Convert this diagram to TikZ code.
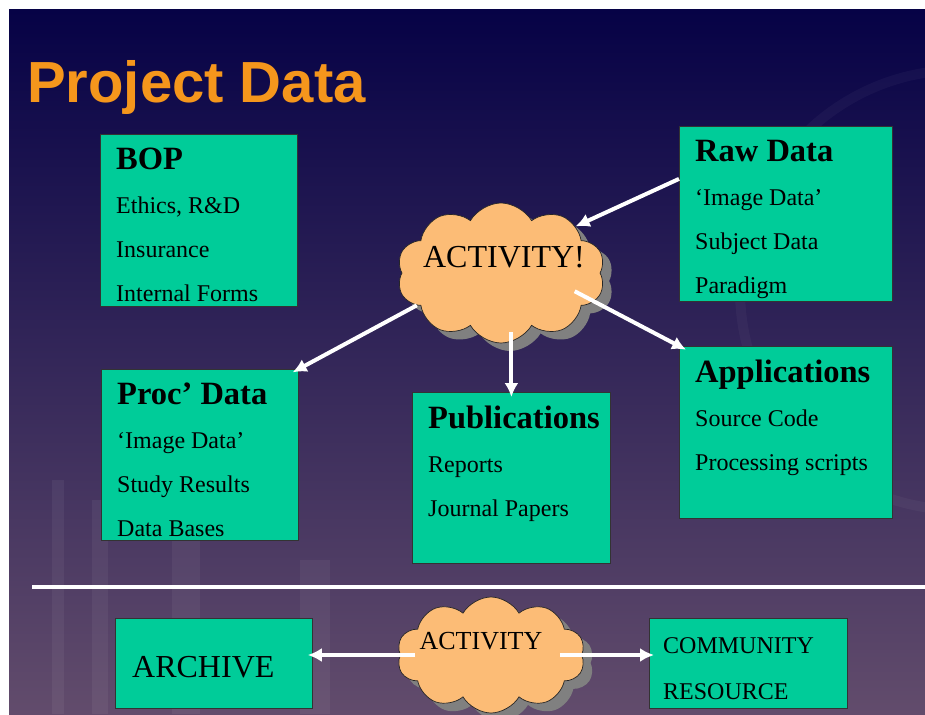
\documentclass[tikz,border=0pt]{standalone}
\usepackage{fontspec}
\setmainfont{Liberation Serif}
\setsansfont{Liberation Sans}
\usepackage{xcolor}
\usepackage{tikz}
\usetikzlibrary{arrows.meta}
\usetikzlibrary{shapes.symbols, shadows}

\definecolor{slidetop}{RGB}{6,2,70}
\definecolor{slidemid}{RGB}{50,34,92}
\definecolor{slidebot}{RGB}{98,76,108}
\definecolor{boxgreen}{RGB}{0,204,153}
\definecolor{cloudorange}{RGB}{252,188,118}
\definecolor{titleorange}{RGB}{245,150,28}
\newcommand{\boxhead}[1]{{\fontsize{32.5}{44}\selectfont\bfseries #1}}

\begin{document}
\begin{tikzpicture}[x=1pt,y=-1pt,>={Latex[length=14pt,width=14pt]}]
\tikzset{box/.style={draw=black!80, line width=0.8pt, fill=boxgreen, anchor=north west, inner sep=0pt},
  lines/.style={anchor=north west, align=left, inner sep=0pt, xshift=16pt, yshift=-14pt, font=\fontsize{24}{44}\selectfont},
  puff/.style={cloud, cloud puffs=10, cloud puff arc=120, cloud ignores aspect, draw=black!85, line width=0.7pt, fill=cloudorange, inner sep=0pt, drop shadow={shadow xshift=9pt, shadow yshift=-8pt, fill=black!50, opacity=1}},
  arr/.style={->, white, line width=4pt, shorten >=-5pt}}
\useasboundingbox (0,0) rectangle (925,714);
\fill[white] (0,0) rectangle (925,714);
\shade[top color=slidetop, middle color=slidemid, bottom color=slidebot] (9,10) rectangle (925,714);
% faint backdrop
\begin{scope}[white, opacity=0.05]
\fill (52,480) rectangle (64,714);
\fill (92,500) rectangle (108,714);
\fill (172,470) rectangle (200,714);
\fill (300,560) rectangle (330,714);
\end{scope}
\draw[white, opacity=0.035, line width=10pt] (960,290) circle[radius=220];
\node[anchor=base west, inner sep=0pt, text=titleorange, font=\sffamily\bfseries\fontsize{58}{60}\selectfont] (title) at (27,103) {Project Data};
% upper boxes
\node[box, minimum width=197pt, minimum height=172pt, label={[lines]north west:{\boxhead{BOP}\\Ethics, R\&D\\Insurance\\Internal Forms}}] (bop) at (100,134) {};
\node[box, minimum width=213pt, minimum height=175pt, label={[lines]north west:{\boxhead{Raw Data}\\`Image Data'\\Subject Data\\Paradigm}}] (raw) at (679,126) {};
\node[box, minimum width=197pt, minimum height=171pt, label={[lines]north west:{\boxhead{Proc' Data}\\`Image Data'\\Study Results\\Data Bases}}] (proc) at (101,369) {};
\node[box, minimum width=198pt, minimum height=171pt, label={[lines]north west:{\boxhead{Publications}\\Reports\\Journal Papers}}] (pub) at (412,392) {};
\node[box, minimum width=213pt, minimum height=172pt, label={[lines]north west:{\boxhead{Applications}\\Source Code\\Processing scripts}}] (app) at (679,346) {};
\node[puff, minimum width=208pt, minimum height=140pt, label={[xshift=3pt, yshift=16pt, font=\fontsize{32}{36}\selectfont]center:ACTIVITY!}] (act) at (501,273) {};
\path[arr, shorten >=0pt] ([yshift=35pt]raw.west) edge (act.32);
\path[arr, shorten >=-7pt] (act.-159) edge (proc.north east);
\path[arr, shorten <=-11pt] (pub.north |- act.south) edge (pub.north);
\path[arr, shorten <=-22pt, shorten >=-8pt] (act.-17) edge (app.north west);
% divider
\draw[white, line width=4pt] (32,587) -- (925,587);
% lower row
\node[box, minimum width=197pt, minimum height=90pt, label={[anchor=base west, inner sep=0pt, xshift=17pt, yshift=-14pt, font=\fontsize{32}{36}\selectfont]west:ARCHIVE}] (arch) at (115,618) {};
\node[box, minimum width=198pt, minimum height=90pt, label={[lines, xshift=-2pt, yshift=-5pt]north west:{COMMUNITY\\[2pt]RESOURCE}}] (comm) at (649,618) {};
\node[puff, minimum width=188pt, minimum height=116pt, label={[xshift=-10pt, yshift=14pt, font=\fontsize{26}{30}\selectfont]center:ACTIVITY}] (act2) at (491,655) {};
\path[arr, shorten <=-15pt] (act2.west) edge (arch.east |- act2.west);
\path[arr, shorten <=-22pt] (act2.east) edge (comm.west |- act2.east);
\end{tikzpicture}
\end{document}
